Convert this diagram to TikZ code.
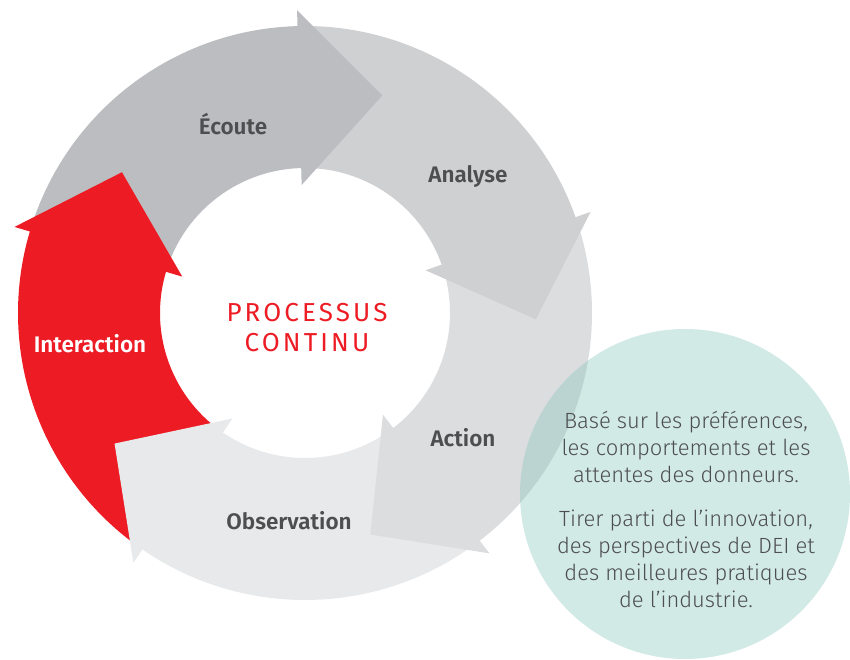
\documentclass[tikz,border=0pt]{standalone}
\usepackage{fontspec}
\usetikzlibrary{calc}

\setmainfont{Fira Sans}
\IfFontExistsTF{Fira Sans SemiBold}
  {\newfontfamily\stepfont{Fira Sans SemiBold}}
  {\newfontfamily\stepfont{Fira Sans}[FakeBold=1.2]}
\IfFontExistsTF{Fira Sans Light}
  {\newfontfamily\notefont{Fira Sans Light}}
  {\newfontfamily\notefont{Fira Sans}}
\newfontfamily\titlefont{Fira Sans}[LetterSpace=12]

\definecolor{greyA}{HTML}{BCBDC0}
\definecolor{greyB}{HTML}{CFD0D2}
\definecolor{greyC}{HTML}{DCDDDF}
\definecolor{greyD}{HTML}{E8E9EA}
\definecolor{cyclered}{HTML}{ED1C24}
\definecolor{labelgrey}{HTML}{4D4E50}
\definecolor{noteteal}{HTML}{82C5BA}

\begin{document}
\begin{tikzpicture}[x=1pt, y=1pt,
    stepname/.style={font=\stepfont\fontsize{22.5}{26}\selectfont, text=labelgrey},
    note/.style={font=\notefont\fontsize{22}{27}\selectfont, text=labelgrey, align=center}]
        \useasboundingbox (-305, -347) rectangle (545, 313);

        \coordinate (O) at (0, 0);

        % Ring bodies, both ends tucked 1 degree under a head
        \foreach \a/\col in {91.5/greyA, 19.5/greyB, -52.5/greyC, -124.5/greyD, 163.5/cyclered}
            \fill[\col] ({\a+71}:287) arc[start angle=\a+71, end angle=\a-1, radius=287]
                -- ({\a-1}:145) arc[start angle=\a-1, end angle=\a+71, radius=145] -- cycle;

        % Arrow heads, on top of the next body
        \foreach \a/\col in {91.5/greyA, 19.5/greyB, -52.5/greyC, -124.5/greyD, 163.5/cyclered}
            \fill[\col] (\a:128) -- (\a:303) -- ($(\a:215.5)+({\a-90}:83)$) -- cycle;

        % Step labels
        \node[stepname] (ecoute) at (-72, 189) {Écoute};
        \node[stepname] (analyse) at (163, 137) {Analyse};
        \node[stepname] (action) at (158, -125) {Action};
        \node[stepname] (observation) at (-16, -208) {Observation};
        \node[stepname, text=white] (interaction) at (-215, -31) {Interaction};

        % Centre
        \node[font=\titlefont\fontsize{26}{30}\selectfont, text=cyclered, align=center]
            (title) at (2, -15) {PROCESSUS\\CONTINU};

        % Side bubble
        \fill[noteteal, fill opacity=0.36] (380, -181) circle (165);
        \node[note] (pref) at (381, -134) {Basé sur les préférences,\\les comportements et les\\attentes des donneurs.};
        \node[note] (innov) at (381, -246) {Tirer parti de l’innovation,\\des perspectives de DEI et\\des meilleures pratiques\\de l’industrie.};

    \end{tikzpicture}
\end{document}
